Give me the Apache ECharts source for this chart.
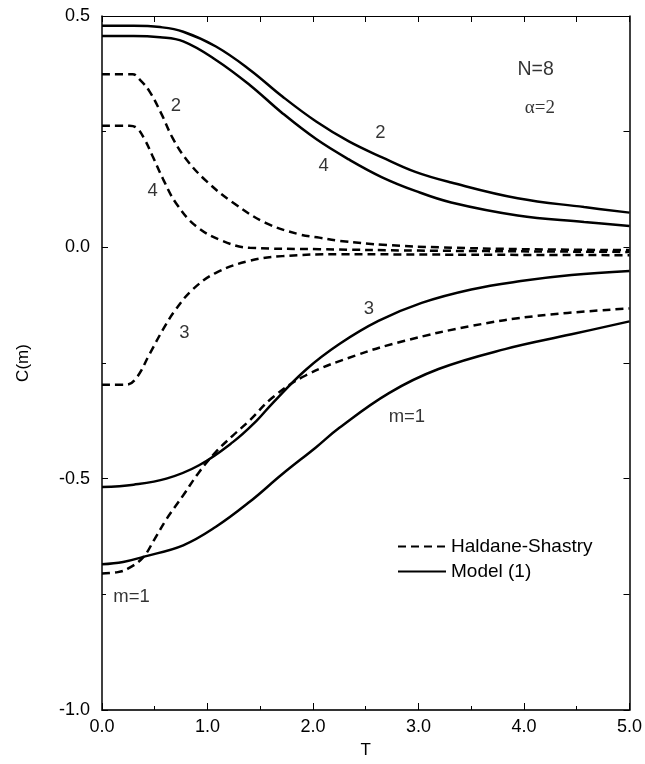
<!DOCTYPE html>
<html>
<head>
<meta charset="utf-8">
<script src="https://cdn.jsdelivr.net/npm/echarts@6/dist/echarts.min.js"></script>
<style>
  html, body { margin: 0; padding: 0; background: #fff; }
  #chart { width: 645px; height: 764px; }
</style>
</head>
<body>
<div id="chart"></div>
<script>
// Correlation functions C(m) versus temperature T, N=8, alpha=2.
// Haldane-Shastry model (dashed) and Model (1) (solid).

// Haldane-Shastry, m = 1..4
const hsT1 = [0, 0.15, 0.25, 0.39, 0.5, 0.61, 0.77, 0.92, 1.08, 1.24, 1.40, 1.62, 1.93, 2.40, 2.87, 3.50, 4.13, 5.0];
const hsC1 = [-0.705, -0.702, -0.694, -0.670, -0.630, -0.588, -0.536, -0.486, -0.442, -0.407, -0.374, -0.324, -0.277, -0.234, -0.202, -0.170, -0.148, -0.132];

const hsT2 = [0, 0.29, 0.36, 0.45, 0.56, 0.67, 0.80, 0.99, 1.24, 1.55, 1.87, 2.06, 2.25, 2.70, 3.20, 4.00, 5.0];
const hsC2 = [0.374, 0.374, 0.362, 0.337, 0.290, 0.236, 0.190, 0.143, 0.097, 0.053, 0.028, 0.021, 0.014, 0.005, 0.000, -0.004, -0.006];

const hsT3 = [0, 0.23, 0.33, 0.45, 0.58, 0.70, 0.86, 1.08, 1.40, 1.71, 2.25, 3.50, 5.0];
const hsC3 = [-0.297, -0.297, -0.281, -0.231, -0.177, -0.134, -0.091, -0.055, -0.029, -0.019, -0.015, -0.016, -0.017];

const hsT4 = [0, 0.26, 0.33, 0.40, 0.48, 0.58, 0.70, 0.89, 1.14, 1.40, 2.06, 3.00, 5.0];
const hsC4 = [0.263, 0.263, 0.258, 0.235, 0.197, 0.147, 0.096, 0.046, 0.014, -0.001, -0.004, -0.007, -0.010];

// Model (1), m = 1..4
const mdT1 = [0, 0.2, 0.39, 0.77, 1.08, 1.40, 1.71, 2.03, 2.25, 2.72, 3.19, 3.82, 4.45, 5.0];
const mdC1 = [-0.685, -0.680, -0.669, -0.644, -0.604, -0.550, -0.490, -0.432, -0.390, -0.315, -0.263, -0.220, -0.188, -0.160];

const mdT2 = [0, 0.3, 0.55, 0.77, 1.08, 1.40, 1.71, 2.03, 2.34, 2.65, 2.97, 3.31, 3.94, 4.57, 5.0];
const mdC2 = [0.479, 0.479, 0.476, 0.466, 0.434, 0.384, 0.326, 0.272, 0.229, 0.195, 0.163, 0.140, 0.106, 0.087, 0.075];

const mdT3 = [0, 0.3, 0.61, 0.92, 1.24, 1.46, 1.62, 1.93, 2.25, 2.62, 3.03, 3.50, 3.97, 4.45, 5.0];
const mdC3 = [-0.518, -0.513, -0.500, -0.471, -0.421, -0.376, -0.336, -0.265, -0.209, -0.159, -0.120, -0.091, -0.073, -0.060, -0.051];

const mdT4 = [0, 0.3, 0.55, 0.77, 1.08, 1.40, 1.71, 2.03, 2.34, 2.65, 2.97, 3.31, 3.94, 4.57, 5.0];
const mdC4 = [0.457, 0.457, 0.454, 0.445, 0.405, 0.351, 0.290, 0.234, 0.190, 0.152, 0.122, 0.097, 0.069, 0.055, 0.046];

// Curve annotations: text with its (T, C) anchor
const noteText = ['2', '4', '2', '4', '3', '3', 'm=1', 'm=1'];
const noteT    = [0.70, 0.48, 2.64, 2.10, 0.78, 2.53, 2.89, 0.28];
const noteC    = [0.305, 0.121, 0.248, 0.175, -0.184, -0.134, -0.367, -0.755];
const paramText = ['N=8'];
const paramT = [4.11];
const paramC = [0.384];
const alphaText = ['\u03b1=2'];
const alphaT = [4.15];
const alphaC = [0.302];

const xTickLabels = ['0.0', '1.0', '2.0', '3.0', '4.0', '5.0'];
const yTickLabels = ['-1.0', '-0.5', '0.0', '0.5'];

const HS_NAME = 'Haldane-Shastry';
const MD_NAME = 'Model (1)';
const FONT = "'Liberation Sans', Arial, sans-serif";

function zip(ts, cs) { return ts.map((t, i) => [t, cs[i]]); }

function curve(name, ts, cs, dashed) {
  return {
    type: 'line',
    name: name,
    data: zip(ts, cs),
    xAxisIndex: 0,
    yAxisIndex: 0,
    smooth: 0.4,
    symbol: 'none',
    silent: true,
    lineStyle: { color: '#000', width: 2.5, type: dashed ? [8, 5] : 'solid', cap: 'butt' },
    itemStyle: { color: '#000' },
    z: 3
  };
}

function notes(texts, ts, cs, fontFamily, size) {
  return {
    type: 'scatter',
    data: texts.map((s, i) => ({ value: [ts[i], cs[i]], name: s })),
    xAxisIndex: 0,
    yAxisIndex: 0,
    symbolSize: 1,
    silent: true,
    itemStyle: { color: 'rgba(0,0,0,0)' },
    label: {
      show: true,
      position: 'inside',
      formatter: p => p.name,
      color: '#000',
      textBorderWidth: 0,
      fontFamily: fontFamily,
      fontSize: size
    },
    z: 4
  };
}

const labelFmt = (labels) => (v) => {
  const s = v.toFixed(1);
  const hit = labels.find(l => parseFloat(l) === parseFloat(s));
  return hit !== undefined ? hit : '';
};

const chart = echarts.init(document.getElementById('chart'), null, { renderer: 'canvas' });

chart.setOption({
  animation: false,
  backgroundColor: '#fff',
  grid: { left: 102, right: 13, top: 16, bottom: 52, containLabel: false },
  legend: {
    data: [HS_NAME, MD_NAME],
    orient: 'vertical',
    left: 392,
    top: 532,
    itemWidth: 48,
    itemHeight: 14,
    itemGap: 6,
    selectedMode: false,
    itemStyle: { opacity: 0 },
    textStyle: { color: '#000', fontFamily: FONT, fontSize: 19 }
  },
  xAxis: [
    {
      type: 'value', position: 'bottom', min: 0, max: 5, interval: 1,
      name: 'T', nameLocation: 'middle', nameGap: 32,
      nameTextStyle: { color: '#000', fontFamily: FONT, fontSize: 17 },
      axisLine: { show: true, onZero: false, lineStyle: { color: '#333', width: 2 } },
      axisTick: { show: true, inside: true, length: 7, lineStyle: { color: '#000', width: 1 } },
      minorTick: { show: true, splitNumber: 2, length: 4, lineStyle: { color: '#000', width: 1 } },
      axisLabel: { color: '#000', fontFamily: FONT, fontSize: 18, margin: 8, formatter: labelFmt(xTickLabels) },
      splitLine: { show: false }
    },
    {
      type: 'value', position: 'top', min: 0, max: 5, interval: 0.5,
      axisLine: { show: true, onZero: false, lineStyle: { color: '#000', width: 1.2 } },
      axisTick: { show: true, inside: true, length: 6, lineStyle: { color: '#000', width: 1 } },
      axisLabel: { show: false },
      splitLine: { show: false }
    }
  ],
  yAxis: [
    {
      type: 'value', position: 'left', min: -1, max: 0.5, interval: 0.5,
      name: 'C(m)', nameLocation: 'middle', nameGap: 70, nameRotate: 90,
      nameTextStyle: { color: '#000', fontFamily: FONT, fontSize: 17 },
      axisLine: { show: true, onZero: false, lineStyle: { color: '#000', width: 1.5 } },
      axisTick: { show: true, inside: true, length: 6, lineStyle: { color: '#000', width: 1 } },
      minorTick: { show: true, splitNumber: 2, length: 4, lineStyle: { color: '#000', width: 1 } },
      axisLabel: { color: '#000', fontFamily: FONT, fontSize: 18, margin: 12, formatter: labelFmt(yTickLabels) },
      splitLine: { show: false }
    },
    {
      type: 'value', position: 'right', min: -1, max: 0.5, interval: 0.25,
      axisLine: { show: true, onZero: false, lineStyle: { color: '#000', width: 1.5 } },
      axisTick: { show: true, inside: true, length: 6, lineStyle: { color: '#000', width: 1 } },
      axisLabel: { show: false },
      splitLine: { show: false }
    }
  ],
  series: [
    curve(HS_NAME, hsT1, hsC1, true),
    curve(HS_NAME, hsT2, hsC2, true),
    curve(HS_NAME, hsT3, hsC3, true),
    curve(HS_NAME, hsT4, hsC4, true),
    curve(MD_NAME, mdT1, mdC1, false),
    curve(MD_NAME, mdT2, mdC2, false),
    curve(MD_NAME, mdT3, mdC3, false),
    curve(MD_NAME, mdT4, mdC4, false),
    notes(noteText, noteT, noteC, FONT, 18.5),
    notes(paramText, paramT, paramC, FONT, 19.5),
    notes(alphaText, alphaT, alphaC, "'Liberation Serif', 'Times New Roman', serif", 19)
  ]
});
</script>
</body>
</html>
